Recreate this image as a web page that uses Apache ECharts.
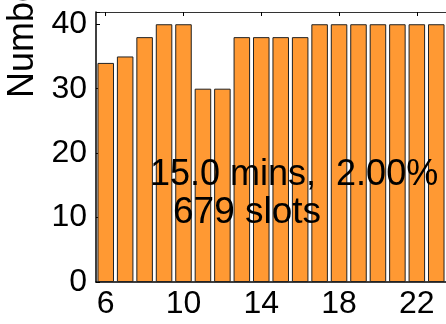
<!DOCTYPE html>
<html>
<head>
<meta charset="utf-8">
<script src="https://cdn.jsdelivr.net/npm/echarts@6/dist/echarts.min.js"></script>
<style>
  html, body { margin: 0; padding: 0; background: #fff; }
  #chart { width: 446px; height: 324px; }
</style>
</head>
<body>
<div id="chart"></div>
<script>
// hours of the day shown on the x axis
var hours = [6, 7, 8, 9, 10, 11, 12, 13, 14, 15, 16, 17, 18, 19, 20, 21, 22, 23];
// bar heights
var counts = [34, 35, 38, 40, 40, 30, 30, 38, 38, 38, 38, 40, 40, 40, 40, 40, 40, 40];
var yTicks = [0, 10, 20, 30, 40];
var yLabelText = 'Number of slots';
// note is printf-style padded, hence the double space before 2.00%
var noteLines = ['15.0 mins,  2.00%', '679 slots'];

var FONT = '"Liberation Sans", Arial, sans-serif';

var myChart = echarts.init(document.getElementById('chart'));

// every 4th hour gets a label / tick
var everyFour = function (i) { return i % 4 === 0; };

myChart.setOption({
  animation: false,
  grid: { left: 96, top: 12, right: -1, bottom: 42 },
  xAxis: [{
    type: 'category',
    data: hours,
    position: 'bottom',
    axisLine: { lineStyle: { color: '#000', width: 1.5 } },
    axisTick: { show: true, inside: true, length: 4, alignWithLabel: true, interval: everyFour, lineStyle: { color: '#000' } },
    axisLabel: { interval: everyFour, color: '#000', fontSize: 32, fontFamily: FONT, margin: 6 }
  }, {
    type: 'category',
    data: hours,
    position: 'top',
    axisLine: { lineStyle: { color: '#333', width: 1 } },
    axisTick: { show: true, inside: true, length: 4, alignWithLabel: true, interval: everyFour, lineStyle: { color: '#000' } },
    axisLabel: { show: false }
  }],
  yAxis: {
    type: 'value',
    min: 0,
    max: 41.9,
    interval: 10,
    axisLine: { show: true, lineStyle: { color: '#000', width: 1.5 } },
    axisTick: { show: true, inside: true, length: 4, lineStyle: { color: '#000' } },
    splitLine: { show: false },
    axisLabel: {
      color: '#000', fontSize: 32, fontFamily: FONT, margin: 9,
      formatter: function (v) { return yTicks.indexOf(v) >= 0 ? String(v) : ''; }
    }
  },
  series: [{
    type: 'bar',
    xAxisIndex: 0,
    data: counts,
    barCategoryGap: '15%',
    itemStyle: { color: '#ff9933', borderColor: '#222', borderWidth: 1 }
  }],
  graphic: [{
    type: 'text',
    x: 23.5, y: 98,
    rotation: Math.PI / 2,
    style: { text: yLabelText, fill: '#000', font: '36px ' + FONT, textAlign: 'left', textVerticalAlign: 'middle' },
    z: 10
  }, {
    type: 'text',
    x: 150, y: 175,
    style: { text: noteLines[0], fill: '#000', font: '36px ' + FONT, textAlign: 'left', textVerticalAlign: 'middle' },
    z: 10
  }, {
    type: 'text',
    x: 173, y: 213,
    style: { text: noteLines[1], fill: '#000', font: '37px ' + FONT, textAlign: 'left', textVerticalAlign: 'middle' },
    z: 10
  }]
});
</script>
</body>
</html>
